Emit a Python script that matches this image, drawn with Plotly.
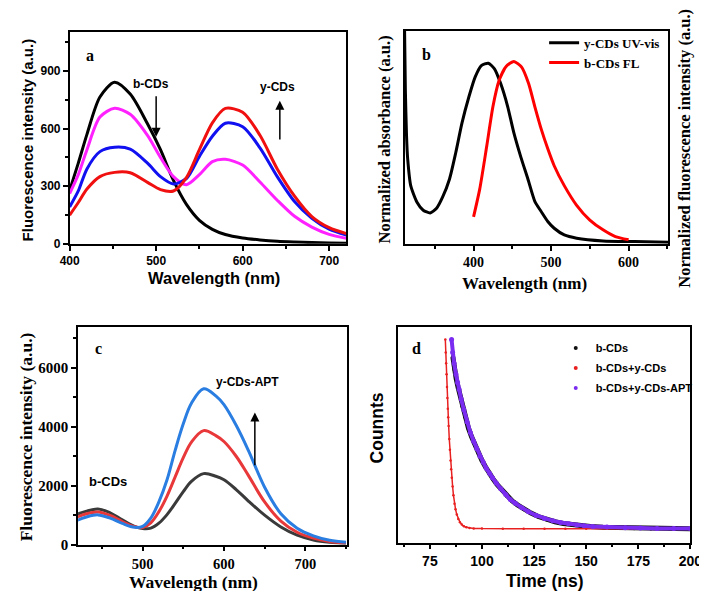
import plotly.graph_objects as go

W, H = 707, 591
SANS = "Liberation Sans, Arial, sans-serif"
SERIF = "Liberation Serif, Times New Roman, serif"

# ---------------- Panel a ----------------
wl_a = [400, 410, 420, 435, 452, 470, 490, 505, 520, 535, 550, 565, 580, 600, 620, 640, 660, 680, 700, 720]
a_black = [278, 420, 570, 765, 842, 780, 625, 490, 330, 205, 122, 75, 48, 30, 20, 13, 9, 6, 4, 3]
a_magenta = [262, 360, 490, 660, 706, 675, 565, 450, 350, 308, 360, 428, 440, 410, 322, 227, 143, 87, 49, 28]
a_blue = [192, 275, 390, 480, 503, 493, 420, 350, 312, 340, 455, 560, 628, 610, 500, 350, 220, 133, 76, 45]
a_red = [149, 215, 285, 350, 372, 370, 320, 282, 275, 345, 490, 630, 705, 685, 565, 390, 248, 142, 84, 53]

# ---------------- Panel b ----------------
wl_b_abs = [311, 312, 313.5, 315, 319, 327, 335, 344, 352, 360, 369, 377, 385, 394, 402, 410, 419,
            427, 435, 444, 452, 461, 470, 479, 487, 496, 504, 517, 533, 567, 608, 651]
b_abs = [1.18, 0.85, 0.6, 0.47, 0.32, 0.23, 0.186, 0.171, 0.195, 0.258, 0.359, 0.504, 0.668, 0.814,
         0.923, 0.987, 1.0, 0.969, 0.887, 0.76, 0.614, 0.48, 0.36, 0.235, 0.18, 0.122, 0.086, 0.049,
         0.031, 0.016, 0.012, 0.008]
wl_b_fl = [400, 408, 417, 425, 433, 442, 452, 462, 471, 479, 487.5, 496, 504, 517, 533, 550, 567, 583, 600]
b_fl = [0.149, 0.304, 0.541, 0.76, 0.905, 0.982, 1.01, 0.978, 0.887, 0.76, 0.632, 0.523, 0.432, 0.322,
        0.213, 0.131, 0.077, 0.04, 0.022]

# ---------------- Panel c ----------------
wl_c = [420, 430, 445, 460, 475, 490, 500, 510, 520, 530, 540, 550, 560, 575, 590, 600, 615, 630,
        650, 670, 690, 710, 730, 750]
c_black = [1040, 1130, 1210, 1080, 840, 620, 545, 560, 730, 1020, 1400, 1800, 2150, 2410, 2320, 2200,
           1870, 1480, 1000, 600, 320, 160, 80, 45]
c_red = [940, 1040, 1110, 990, 780, 610, 580, 740, 1120, 1650, 2300, 2950, 3480, 3870, 3700, 3500,
         3000, 2350, 1450, 800, 420, 220, 110, 60]
c_blue = [830, 930, 1010, 900, 720, 590, 620, 900, 1450, 2200, 3200, 4100, 4800, 5290, 5050, 4750,
          4050, 3200, 1950, 1050, 560, 300, 150, 80]

# ---------------- Panel d ----------------
t_red = [82.4, 82.6, 82.8, 83.0, 83.2, 83.4, 83.6, 83.8, 84.0, 84.3, 84.6, 84.9, 85.2, 85.5, 85.9,
         86.3, 86.8, 87.3, 87.9, 88.6, 89.4, 90.3, 91.3, 92.5, 94, 96, 100, 110, 120, 130, 140, 150,
         160, 170, 180, 190, 200]
d_red = [0.94, 0.88, 0.83, 0.78, 0.72, 0.67, 0.62, 0.58, 0.54, 0.48, 0.43, 0.38, 0.34, 0.30, 0.26,
         0.22, 0.18, 0.155, 0.13, 0.11, 0.095, 0.084, 0.076, 0.071, 0.068, 0.066, 0.065, 0.064, 0.064,
         0.064, 0.064, 0.064, 0.064, 0.064, 0.064, 0.064, 0.064]
t_black = [86.0, 86.8, 87.6, 88.5, 89.5, 90.6, 92, 93.5, 95, 96.7, 98.3, 100, 101.7, 103.5, 105.3,
           107.2, 109.5, 112, 114.5, 117, 120, 123.5, 127, 131, 135, 139, 143, 147, 152, 158, 165,
           173, 181, 190, 200]
d_black = [0.86, 0.80, 0.76, 0.72, 0.68, 0.63, 0.58, 0.53, 0.49, 0.45, 0.415, 0.38, 0.35, 0.32, 0.295,
           0.27, 0.243, 0.215, 0.193, 0.175, 0.155, 0.137, 0.121, 0.107, 0.097, 0.089, 0.083, 0.079,
           0.075, 0.071, 0.069, 0.067, 0.066, 0.065, 0.064]
t_apt = [85.4, 85.9, 86.6, 87.5, 88.3, 89.0, 90, 91.3, 92.8, 94.4, 96, 97.5, 99, 100.6, 102, 103.7,
         105, 106.8, 109, 111.4, 113.5, 116, 119, 122.3, 126, 130, 134, 137.7, 141.5, 145.5, 149,
         153.2, 160, 168.7, 176, 184, 192, 200]
d_apt = [0.94, 0.88, 0.83, 0.78, 0.74, 0.71, 0.665, 0.615, 0.56, 0.51, 0.47, 0.435, 0.40, 0.372, 0.345,
         0.32, 0.30, 0.276, 0.25, 0.223, 0.20, 0.182, 0.162, 0.143, 0.126, 0.112, 0.101, 0.093, 0.087,
         0.082, 0.078, 0.075, 0.072, 0.069, 0.068, 0.066, 0.066, 0.065]


def px(x):
    return x / W


def py(y):
    return 1 - y / H


fig = go.Figure()

# Panel a traces
for ys, col in [(a_black, "#000000"), (a_magenta, "#ff22ff"), (a_blue, "#1010f0"), (a_red, "#f01010")]:
    fig.add_trace(go.Scatter(x=wl_a, y=ys, mode="lines",
                             line=dict(color=col, width=3, shape="spline", smoothing=0.8),
                             showlegend=False, xaxis="x", yaxis="y"))

# Panel b traces
fig.add_trace(go.Scatter(x=wl_b_abs, y=b_abs, mode="lines", name="y-CDs UV-vis",
                         line=dict(color="#000000", width=3, shape="spline", smoothing=0.6),
                         xaxis="x2", yaxis="y2", legend="legend"))
fig.add_trace(go.Scatter(x=wl_b_fl, y=b_fl, mode="lines", name="b-CDs FL",
                         line=dict(color="#ff0000", width=3, shape="spline", smoothing=0.6),
                         xaxis="x2", yaxis="y5", legend="legend"))

# Panel c traces
for ys, col in [(c_black, "#3a3a3a"), (c_red, "#e8383a"), (c_blue, "#2a7de1")]:
    fig.add_trace(go.Scatter(x=wl_c, y=ys, mode="lines", line=dict(color=col, width=3, shape="spline"),
                             showlegend=False, xaxis="x3", yaxis="y3"))

# Panel d traces
fig.add_trace(go.Scatter(x=t_black, y=d_black, mode="lines+markers", showlegend=False,
                         line=dict(color="#111111", width=5), marker=dict(color="#111111", size=4),
                         xaxis="x4", yaxis="y4"))
fig.add_trace(go.Scatter(x=t_red, y=d_red, mode="lines+markers", showlegend=False,
                         line=dict(color="#e82020", width=1.5), marker=dict(color="#e82020", size=2.5),
                         xaxis="x4", yaxis="y4"))
fig.add_trace(go.Scatter(x=t_apt, y=d_apt, mode="lines+markers", showlegend=False,
                         line=dict(color="#7a2cf0", width=4), marker=dict(color="#7a2cf0", size=5),
                         xaxis="x4", yaxis="y4"))
for name, col in [("b-CDs", "#111111"), ("b-CDs+y-CDs", "#e82020"), ("b-CDs+y-CDs-APT", "#7a2cf0")]:
    fig.add_trace(go.Scatter(x=[None], y=[None], mode="markers", name=name,
                             marker=dict(color=col, size=4), xaxis="x4", yaxis="y4",
                             legend="legend2", legendgroup=name))

common = dict(showline=True, mirror=True, linecolor="black", linewidth=1.5, showgrid=False,
              zeroline=False, ticks="outside", ticklen=5, tickwidth=1.5, tickcolor="black")


def ax(**kw):
    d = dict(common)
    d.update(kw)
    return d


sans_tick = dict(family=SANS, size=12, color="black", weight="bold")
serif_tick = dict(family=SERIF, size=14, color="black", weight="bold")

fig.update_layout(
    width=W, height=H, autosize=False,
    margin=dict(l=0, r=0, t=0, b=0),
    paper_bgcolor="white", plot_bgcolor="white",
    xaxis=ax(domain=[px(53.3), px(339)], range=[400, 720], anchor="y", tickvals=[400, 500, 600, 700],
             minor=dict(ticks="outside", ticklen=3, dtick=50, tick0=400, tickcolor="black"),
             tickfont=sans_tick),
    yaxis=ax(domain=[py(239), py(24)], range=[0, 1105], anchor="x", tickvals=[0, 300, 600, 900],
             minor=dict(ticks="outside", ticklen=3, dtick=150, tick0=0, tickcolor="black"),
             tickfont=sans_tick),
    xaxis2=ax(domain=[px(399), px(671)], range=[311, 651], anchor="y2", tickvals=[400, 500, 600],
              minor=dict(ticks="outside", ticklen=3, dtick=50, tick0=300, tickcolor="black"),
              tickfont=serif_tick),
    yaxis2=ax(domain=[py(239), py(23)], range=[0, 1.18], anchor="x2", ticks="", showticklabels=False),
    yaxis5=dict(overlaying="y2", side="right", range=[0, 1.18], showticklabels=False, ticks="",
                showgrid=False, zeroline=False, showline=False, anchor="x2"),
    xaxis3=ax(domain=[px(62), px(339.3)], range=[420.6, 751], anchor="y3", tickvals=[500, 600, 700],
              minor=dict(ticks="outside", ticklen=3, dtick=50, tick0=450, tickcolor="black"),
              tickfont=dict(serif_tick, size=14.5)),
    yaxis3=ax(domain=[py(544), py(323)], range=[0, 7400], anchor="x3", tickvals=[0, 2000, 4000, 6000],
              minor=dict(ticks="outside", ticklen=3, dtick=1000, tick0=0, tickcolor="black"),
              tickfont=dict(serif_tick, size=15)),
    xaxis4=ax(domain=[px(392), px(694)], range=[59.6, 200], anchor="y4",
              tickvals=[75, 100, 125, 150, 175, 200],
              minor=dict(ticks="outside", ticklen=3, dtick=12.5, tick0=62.5, tickcolor="black"),
              tickfont=dict(sans_tick, size=14)),
    yaxis4=ax(domain=[py(542), py(323)], range=[0, 1], anchor="x4", ticks="", showticklabels=False),
    legend=dict(x=px(543), y=py(20), xanchor="left", yanchor="top", bgcolor="rgba(0,0,0,0)",
                font=dict(family=SERIF, size=13, color="black", weight="bold"),
                itemwidth=30, tracegroupgap=0),
    legend2=dict(x=px(555), y=py(330), xanchor="left", yanchor="top", bgcolor="rgba(0,0,0,0)",
                 font=dict(family=SANS, size=11, color="black", weight="bold"),
                 itemwidth=30, tracegroupgap=1),
)

ann = []


def title(text, x, y, fam, size, angle=0):
    ann.append(dict(text=text, x=px(x), y=py(y), xref="paper", yref="paper", showarrow=False,
                    xanchor="center", yanchor="middle", textangle=angle,
                    font=dict(family=fam, size=size, color="black", weight="bold")))


title("Fluorescence intensity (a.u.)", 9.5, 134, SANS, 15, -90)
title("Wavelength (nm)", 202, 274, SANS, 16.5)
title("Normalized absorbance (a.u.)", 378, 133, SERIF, 16.5, -90)
title("Wavelength (nm)", 522.5, 279, SERIF, 17)
title("Normalized fluorescence intensity (a.u.)", 687.5, 142.5, SERIF, 16.5, -90)
title("Fluorescence intensity (a.u.)", 8.5, 435, SERIF, 17.5, -90)
title("Wavelength (nm)", 181, 582, SERIF, 17.5)
title("Time (ns)", 543, 581, SANS, 17.5)
title("Counnts", 370, 425.7, SANS, 17.5, -90)


def label(text, x, y, xr, yr, fam, size):
    ann.append(dict(text=text, x=x, y=y, xref=xr, yref=yr, showarrow=False, xanchor="center",
                    yanchor="middle", font=dict(family=fam, size=size, color="black", weight="bold")))


def arrow(x, y0, y1, xr, yr):
    ann.append(dict(x=x, y=y1, ax=x, ay=y0, xref=xr, yref=yr, axref=xr, ayref=yr, text="",
                    showarrow=True, arrowhead=2, arrowsize=1.2, arrowwidth=1.5, arrowcolor="black"))


label("a", 423, 983, "x", "y", SERIF, 16)
label("b-CDs", 494, 833, "x", "y", SANS, 12)
label("y-CDs", 640, 818, "x", "y", SANS, 12)
arrow(500, 776, 557, "x", "y")
arrow(643, 535, 745, "x", "y")

label("b", 339.6, 1.05, "x2", "y2", SERIF, 16)

label("c", 446, 6667, "x3", "y3", SERIF, 16)
label("y-CDs-APT", 629, 5517, "x3", "y3", SANS, 12)
label("b-CDs", 458, 2144, "x3", "y3", SANS, 13)
arrow(638, 2646, 4489, "x3", "y3")

label("d", 68.8, 0.897, "x4", "y4", SERIF, 16)

fig.update_layout(annotations=ann)

fig.write_html("out.html")
